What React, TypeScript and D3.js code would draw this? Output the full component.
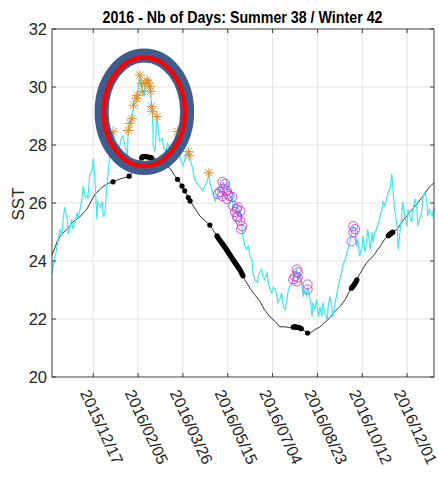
import React from "react";
import * as d3 from "d3";

// ---------- data ----------
const START = new Date(2015, 10, 1); // day 0
const END = new Date(2016, 11, 31);

const titleText = "2016 - Nb of Days: Summer 38 / Winter 42";
const yLabel = "SST";
const yTicks = [20, 22, 24, 26, 28, 30, 32];
const xTickLabels = [
  "2015/12/17", "2016/02/05", "2016/03/26", "2016/05/15",
  "2016/07/04", "2016/08/23", "2016/10/12", "2016/12/01",
];

// climatology-like smooth line (black): day offset since 2015/11/01, value
const climDays = [0, 6, 9, 17, 23, 31, 39, 45, 48, 54, 61, 68, 76, 84, 87, 93, 98, 101, 106, 110, 115, 120, 126, 132, 137, 143, 148, 154, 159, 165, 171, 176, 182, 187, 193, 198, 204, 210, 215, 221, 226, 232, 237, 243, 249, 254, 260, 265, 271, 276, 280, 284, 287, 290, 293, 299, 304, 310, 315, 321, 327, 332, 338, 343, 351, 358, 366, 371, 377, 385, 391, 399, 407, 414, 421, 426];
const climVals = [24.2, 24.68, 24.86, 25.1, 25.34, 25.52, 25.79, 26.14, 26.31, 26.49, 26.66, 26.73, 26.83, 26.9, 26.94, 27.18, 27.46, 27.6, 27.6, 27.56, 27.53, 27.42, 27.32, 27.18, 26.94, 26.69, 26.42, 26.07, 25.83, 25.55, 25.38, 25.24, 24.96, 24.72, 24.47, 24.23, 23.95, 23.68, 23.36, 23.05, 22.84, 22.6, 22.32, 22.08, 21.91, 21.73, 21.73, 21.7, 21.73, 21.7, 21.63, 21.53, 21.49, 21.56, 21.63, 21.73, 21.87, 22.05, 22.25, 22.43, 22.67, 22.98, 23.23, 23.54, 23.95, 24.16, 24.51, 24.75, 24.93, 25.1, 25.38, 25.69, 25.97, 26.24, 26.56, 26.69];

// daily SST (cyan)
const sstDays = [0, 2, 4, 7, 9, 11, 12, 14, 17, 18, 20, 22, 23, 26, 28, 29, 31, 33, 35, 37, 39, 40, 42, 45, 46, 48, 50, 51, 54, 56, 57, 59, 61, 64, 66, 68, 70, 72, 75, 77, 79, 81, 84, 85, 87, 89, 91, 94, 95, 96, 98, 99, 100, 101, 103, 104, 106, 107, 108, 109, 110, 111, 112, 113, 115, 117, 120, 123, 125, 127, 129, 132, 135, 138, 140, 143, 146, 149, 152, 153, 155, 157, 159, 162, 165, 168, 171, 173, 175, 176, 178, 182, 184, 185, 187, 190, 191, 193, 195, 196, 198, 201, 202, 204, 206, 207, 210, 212, 213, 215, 217, 219, 221, 223, 224, 226, 229, 230, 232, 234, 235, 237, 240, 241, 243, 245, 247, 249, 251, 252, 254, 256, 258, 260, 262, 263, 265, 268, 269, 271, 273, 274, 276, 279, 280, 282, 284, 285, 288, 290, 291, 293, 295, 297, 299, 301, 302, 304, 307, 308, 310, 312, 313, 315, 318, 319, 321, 323, 324, 327, 329, 330, 332, 334, 336, 338, 340, 341, 343, 346, 347, 349, 351, 352, 355, 357, 358, 360, 362, 363, 366, 368, 369, 371, 373, 375, 377, 379, 380, 382, 385, 386, 388, 390, 391, 394, 396, 397, 399, 401, 402, 405, 407, 408, 410, 412, 414, 416, 418, 419, 421, 424, 426];
const sstVals = [23.57, 23.95, 24.23, 24.75, 25.1, 24.86, 25.27, 25.86, 25.45, 24.93, 25.2, 25.45, 25.1, 25.34, 25.69, 25.45, 25.72, 26.07, 26.59, 26.21, 26.24, 26.14, 26.94, 27.18, 27.53, 26.73, 25.45, 26.04, 25.86, 26.07, 25.55, 25.62, 26.49, 27.53, 28.22, 28.46, 28.12, 27.53, 27.87, 28.22, 28.32, 28.05, 27.63, 28.5, 28.74, 28.91, 29.37, 29.61, 29.71, 29.89, 30.41, 30.02, 30.13, 29.85, 29.68, 30.13, 30.23, 30.16, 30.3, 30.02, 29.85, 29.33, 29.16, 27.94, 27.77, 28.98, 28.12, 28.22, 27.87, 27.77, 28.05, 27.87, 27.8, 28.05, 28.46, 27.53, 27.28, 27.6, 27.77, 27.63, 27.42, 27.18, 26.83, 26.66, 26.56, 26.42, 26.63, 26.73, 27.04, 26.73, 26.49, 26.07, 26.24, 26.49, 26.38, 26.66, 26.73, 26.49, 26.49, 26.73, 26.42, 26.31, 25.79, 25.97, 25.9, 25.55, 25.69, 25.2, 24.86, 24.51, 24.41, 24.51, 24.16, 24.06, 23.61, 23.36, 23.26, 23.47, 23.64, 23.71, 23.47, 23.36, 23.61, 23.26, 23.02, 22.91, 23.09, 23.02, 22.77, 22.57, 22.67, 22.91, 22.43, 22.32, 22.67, 22.91, 23.12, 23.26, 23.36, 23.61, 23.71, 23.36, 23.61, 23.12, 22.77, 23.02, 22.77, 23.12, 22.67, 22.08, 22.57, 22.32, 22.67, 22.08, 22.43, 22.08, 22.57, 22.22, 21.98, 22.43, 22.77, 22.43, 22.08, 22.43, 22.91, 23.12, 23.36, 23.61, 23.82, 24.06, 24.3, 24.41, 24.65, 24.99, 25.2, 25.1, 24.51, 24.75, 24.16, 24.51, 24.86, 24.3, 24.75, 25.1, 24.41, 24.99, 24.65, 24.99, 25.1, 25.2, 25.55, 25.79, 26.04, 25.9, 26.14, 26.38, 26.49, 27.01, 26.59, 25.79, 25.2, 24.41, 24.99, 25.55, 26.04, 25.45, 25.2, 25.79, 25.55, 25.34, 25.69, 26.14, 25.79, 25.2, 25.45, 25.69, 26.24, 26.38, 26.04, 25.55, 25.79, 25.55, 25.86];

// days flagged on the black line (filled dots)
const winterDays = [68, 86, 100, 101, 102, 103, 104, 105, 107, 109, 110, 111, 140, 145, 148, 152, 154, 176,
  184, 185, 186, 187, 188, 189, 190, 191, 192, 193, 194, 195, 196, 197, 198, 199, 200, 201, 202, 203, 204, 205, 206, 207, 208, 209, 210, 211, 212, 213,
  269, 270, 271, 272, 273, 275, 276, 278, 285, 334, 335, 336, 337, 338, 339, 340, 375, 376, 377, 378, 379, 380];

// asterisks (warm extremes) on the cyan line
const warmDays = [68, 85, 87, 89, 91, 94, 95, 98, 100, 101, 104, 106, 107, 109, 110, 111, 112, 117, 140, 152, 153, 175];
const warmVals = [28.46, 28.5, 28.74, 28.91, 29.37, 29.61, 29.71, 30.41, 30.13, 29.85, 30.13, 30.23, 30.16, 30.02, 29.85, 29.33, 29.16, 28.98, 28.46, 27.77, 27.63, 27.04];

// circles on the cyan line
const circDays = [190, 193, 191, 187, 185, 190, 195, 196, 198, 195, 201, 202, 206, 207, 210, 204, 206, 207, 210, 212, 211,
  273, 274, 271, 269, 273, 274, 285, 285, 336, 338, 336, 334];
const circVals = [26.73, 26.66, 26.49, 26.38, 26.31, 26.24, 26.42, 26.31, 26.24, 26.14, 26.21, 25.9, 25.79, 25.86, 25.72, 25.69, 25.55, 25.51, 25.38, 25.2, 25.1,
  23.71, 23.61, 23.47, 23.36, 23.3, 23.43, 23.19, 23.02, 25.2, 25.1, 24.99, 24.68];

// highlight ellipse (data units: centre day/value, half-width in days, half-height in SST)
const hlCenterDay = 103;
const hlCenterVal = 29.15;
const hlOuter = { rDays: 47.7, rVal: 1.94 };
const hlInner = { rDays: 45.3, rVal: 1.87 };

// ---------- chart ----------
const FONT = "'Liberation Sans', Arial, Helvetica, sans-serif";

export default function App() {
  const W = 439, H = 480;
  const L = 52, R = 434, T = 29, B = 377;
  const dayDate = (d: number) => d3.timeDay.offset(START, d);
  const x = d3.scaleTime().domain([START, END]).range([L, R]);
  const y = d3.scaleLinear().domain([20, 32]).range([B, T]);
  const parse = d3.timeParse("%Y/%m/%d");
  const xTicks = xTickLabels.map((s) => parse(s) as Date);

  const line = d3.line<[number, number]>()
    .x((p) => x(dayDate(p[0])))
    .y((p) => y(p[1]));

  const clim: [number, number][] = climDays.map((d, i) => [d, climVals[i]]);
  const sst: [number, number][] = sstDays.map((d, i) => [d, sstVals[i]]);
  const climInterp = d3.scaleLinear().domain(climDays).range(climVals);

  const cx = x(dayDate(hlCenterDay));
  const cy = y(hlCenterVal);
  const pxPerDay = x(dayDate(1)) - x(dayDate(0));
  const pxPerUnit = y(20) - y(21);

  const star = "M-5,0H5M0,-5V5M-3.6,-3.6L3.6,3.6M-3.6,3.6L3.6,-3.6";

  return (
    <svg width={W} height={H} style={{ position: "absolute", left: 0, top: 0, background: "#fff" }}>
      <rect x={0} y={0} width={W} height={H} fill="#fff" />
      {/* grid */}
      <g stroke="#e3e3e3" strokeWidth={1}>
        {yTicks.slice(1, -1).map((t) => (
          <line key={"gy" + t} x1={L} x2={R} y1={y(t)} y2={y(t)} />
        ))}
        {xTicks.map((t, i) => (
          <line key={"gx" + i} x1={x(t)} x2={x(t)} y1={T} y2={B} />
        ))}
      </g>

      {/* lines */}
      <path d={line(clim) || ""} fill="none" stroke="#1e1e1e" strokeWidth={0.9} />
      <path d={line(sst) || ""} fill="none" stroke="#3ee8ee" strokeWidth={1.2} />

      {/* winter dots on black line */}
      <g fill="#000">
        {winterDays.map((d, i) => (
          <circle key={"w" + i} cx={x(dayDate(d))} cy={y(climInterp(d))} r={2.6} />
        ))}
      </g>

      {/* circles */}
      <g fill="none" stroke="#c23fd2" strokeWidth={0.9}>
        {circDays.map((d, i) => (
          <circle key={"c" + i} cx={x(dayDate(d))} cy={y(circVals[i])} r={4.6} />
        ))}
      </g>

      {/* asterisks */}
      <g fill="none" stroke="#e0902a" strokeWidth={1}>
        {warmDays.map((d, i) => (
          <path key={"a" + i} d={star} transform={`translate(${x(dayDate(d))},${y(warmVals[i])})`} />
        ))}
      </g>

      {/* highlight ellipse */}
      <ellipse cx={cx} cy={cy} rx={hlOuter.rDays * pxPerDay} ry={hlOuter.rVal * pxPerUnit}
        fill="none" stroke="#3e5d8c" strokeWidth={14} />
      <ellipse cx={cx} cy={cy} rx={hlInner.rDays * pxPerDay} ry={hlInner.rVal * pxPerUnit}
        fill="none" stroke="#ff0000" strokeWidth={4.5} />

      {/* axes box */}
      <rect x={L} y={T} width={R - L} height={B - T} fill="none" stroke="#2b2b2b" strokeWidth={0.9} />
      <g stroke="#2b2b2b" strokeWidth={0.9}>
        {yTicks.map((t) => (
          <g key={"ty" + t}>
            <line x1={L} x2={L + 4} y1={y(t)} y2={y(t)} />
            <line x1={R} x2={R - 4} y1={y(t)} y2={y(t)} />
          </g>
        ))}
        {xTicks.map((t, i) => (
          <g key={"tx" + i}>
            <line x1={x(t)} x2={x(t)} y1={B} y2={B - 4} />
            <line x1={x(t)} x2={x(t)} y1={T} y2={T + 4} />
          </g>
        ))}
      </g>

      {/* y tick labels */}
      <g fontFamily={FONT} fontSize={16.5} fill="#262626" textAnchor="end">
        {yTicks.map((t) => (
          <text key={"ly" + t} x={L - 5} y={y(t)} dy="0.36em">{t}</text>
        ))}
      </g>

      {/* x tick labels */}
      <g fontFamily={FONT} fontSize={16} fill="#262626">
        {xTicks.map((t, i) => (
          <text key={"lx" + i} transform={`translate(${x(t) - 13.5},${B + 16}) rotate(65)`}>
            {xTickLabels[i]}
          </text>
        ))}
      </g>

      {/* y label */}
      <text transform={`translate(24,204) rotate(-90)`} textAnchor="middle" fontFamily={FONT}
        fontSize={17} fill="#262626">{yLabel}</text>

      {/* title */}
      <text x={242.5} y={23} textAnchor="middle" fontFamily={FONT} fontSize={16} fontWeight="bold"
        fill="#000" textLength={280} lengthAdjust="spacingAndGlyphs">{titleText}</text>
    </svg>
  );
}
